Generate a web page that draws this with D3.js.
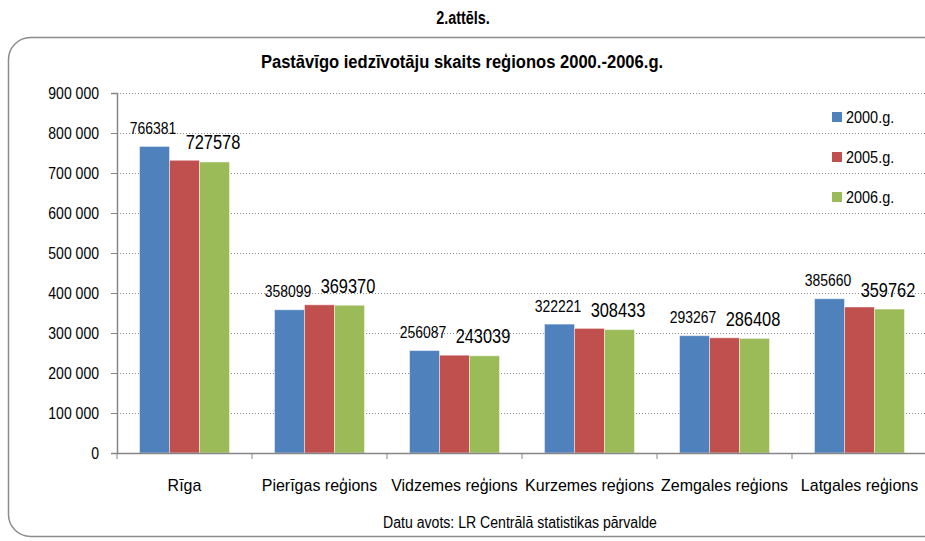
<!DOCTYPE html>
<html>
  <head>
    <meta charset="utf-8">
    <title>Pastāvīgo iedzīvotāju skaits reģionos</title>
    <script src="https://cdn.jsdelivr.net/npm/d3@7"></script>
    <style>
      body { margin: 0; background: #fff; }
      text { font-family: "Liberation Sans", Arial, sans-serif; fill: #000; }
    </style>
  </head>
  <body>
    <div id="main"></div>
    <script>
      var WIDTH = 925, HEIGHT = 541;

      var regions = ["Rīga", "Pierīgas reģions", "Vidzemes reģions", "Kurzemes reģions", "Zemgales reģions", "Latgales reģions"];
      var years = ["2000.g.", "2005.g.", "2006.g."];
      var values2000 = [766381, 358099, 256087, 322221, 293267, 385660];
      var values2005 = [731800, 370500, 244500, 311500, 288000, 365000];
      var values2006 = [727578, 369370, 243039, 308433, 286408, 359762];
      var labelledYears = ["2000.g.", "2006.g."];
      var yTicks = [0, 100000, 200000, 300000, 400000, 500000, 600000, 700000, 800000, 900000];

      var colors = ["#4F81BD", "#C0504D", "#9BBB59"];
      var series = [values2000, values2005, values2006];

      var margin = {left: 117, right: 925 + 2, top: 93, bottom: 453};

      var svg = d3.select('#main').append('svg')
                  .attr('width', WIDTH).attr('height', HEIGHT);

      // squeeze text a little, the original uses a narrow face
      function condense(sel, k) {
        sel.each(function() {
          var w = this.getComputedTextLength();
          d3.select(this).attr('textLength', w * k).attr('lengthAdjust', 'spacingAndGlyphs');
        });
      }

      svg.append('rect')
        .attr('x', 8.5).attr('y', 37.5)
        .attr('width', 960).attr('height', 499)
        .attr('rx', 22).attr('ry', 22)
        .attr('fill', 'none').attr('stroke', '#8c8c8c').attr('stroke-width', 1.5);

      svg.append('text')
        .attr('x', 463).attr('y', 24)
        .attr('text-anchor', 'middle')
        .style('font-size', '18px').style('font-weight', 'bold')
        .text('2.attēls.')
        .call(condense, 0.8);

      svg.append('text')
        .attr('x', 462).attr('y', 68)
        .attr('text-anchor', 'middle')
        .style('font-size', '18px').style('font-weight', 'bold')
        .text('Pastāvīgo iedzīvotāju skaits reģionos 2000.-2006.g.')
        .call(condense, 0.92);

      var x0 = d3.scaleBand().domain(regions).range([margin.left, margin.right]);
      var x1 = d3.scaleBand().domain(years)
                 .range([x0.bandwidth() / 6, x0.bandwidth() * 5 / 6]);
      var y = d3.scaleLinear().domain([0, 900000]).range([margin.bottom, margin.top]);

      var fmt = d3.formatLocale({decimal: ",", thousands: " ", grouping: [3], currency: ["", ""]}).format(",d");

      // gridlines
      svg.append('g').selectAll('line')
        .data(yTicks.filter(function(d) { return d > 0; }))
        .enter().append('line')
          .attr('x1', margin.left).attr('x2', margin.right)
          .attr('y1', function(d) { return Math.round(y(d)) + 0.5; })
          .attr('y2', function(d) { return Math.round(y(d)) + 0.5; })
          .attr('stroke', '#8a8a8a').attr('stroke-dasharray', '1,2');

      // bars
      var groups = svg.append('g').selectAll('g')
        .data(regions)
        .enter().append('g')
          .attr('transform', function(d) { return 'translate(' + x0(d) + ',0)'; });

      groups.selectAll('rect')
        .data(function(d, i) { return years.map(function(yr, j) { return {year: yr, j: j, v: series[j][i]}; }); })
        .enter().append('rect')
          .attr('x', function(d) { return x1(d.year); })
          .attr('width', x1.bandwidth())
          .attr('y', function(d) { return y(d.v); })
          .attr('height', function(d) { return y(0) - y(d.v); })
          .attr('fill', function(d) { return colors[d.j]; })
          .attr('stroke', 'rgba(255,255,255,0.45)').attr('stroke-width', 1);

      // data labels for first and last year only
      groups.selectAll('text')
        .data(function(d, i) {
          return years.map(function(yr, j) { return {year: yr, j: j, v: series[j][i]}; })
                      .filter(function(d) { return labelledYears.indexOf(d.year) >= 0; });
        })
        .enter().append('text')
          .attr('x', function(d) { return x1(d.year) + x1.bandwidth() / 2 - 1.5; })
          .attr('y', function(d) { return y(d.v) - 12.5; })
          .attr('text-anchor', 'middle')
          .style('font-size', function(d) { return d.j === 0 ? '17px' : '20px'; })
          .text(function(d) { return d.v; })
          .call(condense, 0.82);

      // axes
      var yAxis = svg.append('g')
        .attr('transform', 'translate(' + margin.left + ',0)')
        .call(d3.axisLeft(y).tickValues(yTicks).tickSize(6).tickPadding(12).tickFormat(fmt));
      yAxis.select('.domain').attr('stroke', '#868686').attr('stroke-width', 1.5);
      yAxis.selectAll('.tick line').attr('stroke', '#868686');
      yAxis.selectAll('.tick text')
        .style('font-size', '16.5px').attr('fill', '#000')
        .call(condense, 0.85);

      var xAxis = svg.append('g')
        .attr('transform', 'translate(0,' + margin.bottom + ')')
        .call(d3.axisBottom(x0).tickSize(0).tickPadding(26));
      xAxis.select('.domain').attr('stroke', '#868686').attr('stroke-width', 1.5);
      xAxis.selectAll('.tick text')
        .style('font-size', '17px').attr('fill', '#000')
        .call(condense, 0.94);

      // category boundary ticks
      svg.append('g').selectAll('line')
        .data(regions.concat(['end']))
        .enter().append('line')
          .attr('x1', function(d, i) { return i < regions.length ? x0(d) : margin.right; })
          .attr('x2', function(d, i) { return i < regions.length ? x0(d) : margin.right; })
          .attr('y1', margin.bottom).attr('y2', margin.bottom + 6)
          .attr('stroke', '#868686');

      // legend
      var legend = svg.append('g').selectAll('g')
        .data(years)
        .enter().append('g')
          .attr('transform', function(d, i) { return 'translate(832,' + (112 + i * 40) + ')'; });
      legend.append('rect')
        .attr('width', 10).attr('height', 10)
        .attr('fill', function(d, i) { return colors[i]; });
      legend.append('text')
        .attr('x', 14).attr('y', 11)
        .style('font-size', '17px')
        .text(function(d) { return d; })
        .call(condense, 0.85);

      svg.append('text')
        .attr('x', 520).attr('y', 528)
        .attr('text-anchor', 'middle')
        .style('font-size', '16px')
        .text('Datu avots: LR Centrālā statistikas pārvalde')
        .call(condense, 0.88);
    </script>
  </body>
</html>
